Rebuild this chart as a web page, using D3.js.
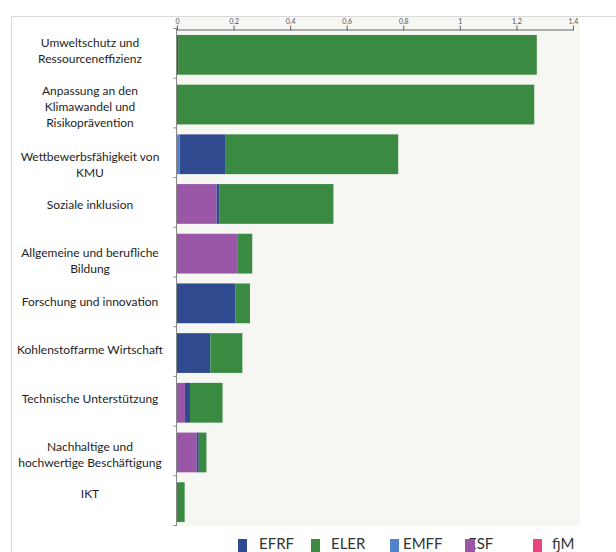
<!DOCTYPE html>
<html><head><meta charset="utf-8">
<script src="https://cdn.jsdelivr.net/npm/d3@7"></script>
<style>body{margin:0;background:#fff}svg{display:block}</style>
</head><body><svg id="c" width="616" height="552"></svg>
<script>
const categories = [
  "Umweltschutz und|Ressourceneffizienz",
  "Anpassung an den|Klimawandel und|Risikoprävention",
  "Wettbewerbsfähigkeit von|KMU",
  "Soziale inklusion",
  "Allgemeine und berufliche|Bildung",
  "Forschung und innovation",
  "Kohlenstoffarme Wirtschaft",
  "Technische Unterstützung",
  "Nachhaltige und|hochwertige Beschäftigung",
  "IKT"
];
const seriesNames = ["EFRF","ELER","EMFF","ESF","fjM"];
const EFRF = [0.004, 0.003, 0.160, 0.009, 0.000, 0.206, 0.118, 0.018, 0.007, 0.000];
const ELER = [1.268, 1.260, 0.612, 0.404, 0.053, 0.052, 0.113, 0.115, 0.027, 0.027];
const EMFF = [0.000, 0.000, 0.010, 0.000, 0.000, 0.000, 0.000, 0.000, 0.000, 0.000];
const ESF  = [0.000, 0.000, 0.000, 0.140, 0.213, 0.000, 0.000, 0.028, 0.070, 0.000];
const fjM  = [0, 0, 0, 0, 0, 0, 0, 0, 0, 0];
const xTicks = [0, 0.2, 0.4, 0.6, 0.8, 1, 1.2, 1.4];
const colors = {EFRF:"#304a8f", ELER:"#3a8b41", EMFF:"#5282cc", ESF:"#9a57a7", fjM:"#e8457e"};
const stackOrder = ["EMFF","ESF","EFRF","ELER","fjM"];

const seriesVals = {EFRF, ELER, EMFF, ESF, fjM};
const rows = categories.map((c,i)=>{const r={cat:c}; seriesNames.forEach(s=>r[s]=seriesVals[s][i]); return r;});

const svg = d3.select("#c");
const font = "Lato, 'Open Sans', sans-serif";

// frame
svg.append("line").attr("x1",11).attr("x2",616).attr("y1",16.5).attr("y2",16.5).attr("stroke","#d9d9d9");
svg.append("line").attr("x1",11.5).attr("x2",11.5).attr("y1",16).attr("y2",552).attr("stroke","#d9d9d9");
// plot background
svg.append("rect").attr("x",176).attr("y",17).attr("width",404).attr("height",509).attr("fill","#f6f6f3");

const x = d3.scaleLinear().domain([0,1.4]).range([177,573]);
const y = d3.scaleBand().domain(categories).range([28.5,525.5]).paddingInner(0.2).paddingOuter(0.1);

const stack = d3.stack().keys(stackOrder)(rows);
svg.append("g").selectAll("g").data(stack).join("g")
  .attr("fill", d=>colors[d.key])
  .selectAll("rect").data(d=>d).join("rect")
  .attr("x", d=>x(d[0])).attr("width", d=>Math.max(0,x(d[1])-x(d[0])))
  .attr("y", d=>y(d.data.cat)+1.5).attr("height", y.bandwidth());

// top axis
const gx = svg.append("g").attr("transform","translate(0,29.5)")
  .call(d3.axisTop(x).tickValues(xTicks).tickSize(3).tickPadding(3).tickFormat(d=>String(d)));
gx.select(".domain").attr("stroke","#666");
gx.selectAll(".tick line").attr("stroke","#666").attr("y2",-4).attr("y1",1);
gx.selectAll("text").attr("font-family",font).attr("font-size",7).attr("fill","#555");

// left axis line with boundary ticks
svg.append("line").attr("x1",176.5).attr("x2",176.5).attr("y1",29).attr("y2",525.5).attr("stroke","#888");
const bounds = d3.range(categories.length+1).map(i=>28.5+i*(497/categories.length));
svg.append("g").selectAll("line").data(bounds).join("line")
  .attr("x1",173.5).attr("x2",177).attr("y1",d=>d).attr("y2",d=>d).attr("stroke","#888");

// category labels (label block placement as in the original's text boxes)
const labelShift = [-4, 2, 10, 1, 7, -2, -3, -4, 2, -8];
const lab = svg.append("g").selectAll("text").data(categories).join("text")
  .attr("font-family",font).attr("font-size",12).attr("fill","#1e1e1e").attr("text-anchor","middle");
lab.each(function(c,k){
  const lines = c.split("|");
  const cy = y(c) + 1.5 + y.bandwidth()/2 + labelShift[k];
  const lh = 16;
  const t = d3.select(this);
  lines.forEach((l,i)=>{
    t.append("tspan").attr("x",90).attr("y", cy + (i-(lines.length-1)/2)*lh + 4.3).text(l);
  });
});

// legend
const legendX = {EFRF:[238,259], ELER:[311,331], EMFF:[390,403], ESF:[465,468], fjM:[533,552]};
const lg = svg.append("g");
seriesNames.forEach(s=>{
  lg.append("text").attr("x",legendX[s][1]).attr("y",549).attr("font-family",font).attr("font-size",15).attr("fill","#333").text(s);
  lg.append("rect").attr("x",legendX[s][0]).attr("y",539).attr("width",s==="ESF"?10:9).attr("height",13).attr("fill",colors[s]);
});
</script></body></html>
